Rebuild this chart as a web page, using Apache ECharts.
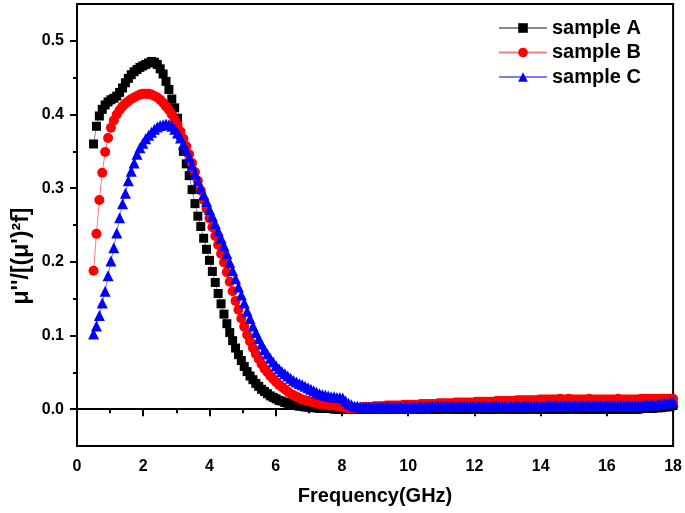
<!DOCTYPE html>
<html><head><meta charset="utf-8">
<script src="https://cdn.jsdelivr.net/npm/echarts@6/dist/echarts.min.js"></script>
<style>html,body{margin:0;padding:0;background:#fff}#c{width:685px;height:513px}</style>
</head><body><div id="c"></div>
<script>
const freq = [
0.5,0.5875,0.675,0.7625,0.85,0.9375,1.025,1.1125,
1.2,1.2875,1.375,1.4625,1.55,1.6375,1.725,1.8125,
1.9,1.9875,2.075,2.1625,2.25,2.3375,2.425,2.5125,
2.6,2.6875,2.775,2.8625,2.95,3.0375,3.125,3.2125,
3.3,3.3875,3.475,3.5625,3.65,3.7375,3.825,3.9125,
4.0,4.0875,4.175,4.2625,4.35,4.4375,4.525,4.6125,
4.7,4.7875,4.875,4.9625,5.05,5.1375,5.225,5.3125,
5.4,5.4875,5.575,5.6625,5.75,5.8375,5.925,6.0125,
6.1,6.1875,6.275,6.3625,6.45,6.5375,6.625,6.7125,
6.8,6.8875,6.975,7.0625,7.15,7.2375,7.325,7.4125,
7.5,7.5875,7.675,7.7625,7.85,7.9375,8.025,8.1125,
8.2,8.2875,8.375,8.4625,8.55,8.6375,8.725,8.8125,
8.9,8.9875,9.075,9.1625,9.25,9.3375,9.425,9.5125,
9.6,9.6875,9.775,9.8625,9.95,10.0375,10.125,10.2125,
10.3,10.3875,10.475,10.5625,10.65,10.7375,10.825,10.9125,
11.0,11.0875,11.175,11.2625,11.35,11.4375,11.525,11.6125,
11.7,11.7875,11.875,11.9625,12.05,12.1375,12.225,12.3125,
12.4,12.4875,12.575,12.6625,12.75,12.8375,12.925,13.0125,
13.1,13.1875,13.275,13.3625,13.45,13.5375,13.625,13.7125,
13.8,13.8875,13.975,14.0625,14.15,14.2375,14.325,14.4125,
14.5,14.5875,14.675,14.7625,14.85,14.9375,15.025,15.1125,
15.2,15.2875,15.375,15.4625,15.55,15.6375,15.725,15.8125,
15.9,15.9875,16.075,16.1625,16.25,16.3375,16.425,16.5125,
16.6,16.6875,16.775,16.8625,16.95,17.0375,17.125,17.2125,
17.3,17.3875,17.475,17.5625,17.65,17.7375,17.825,17.9125,
18.0];

const sampleA = [
0.360,0.384,0.398,0.407,0.413,0.417,0.420,0.422,
0.425,0.430,0.436,0.443,0.449,0.454,0.458,0.461,
0.464,0.466,0.468,0.470,0.472,0.471,0.468,0.462,
0.455,0.445,0.434,0.421,0.409,0.395,0.372,0.350,
0.333,0.317,0.298,0.279,0.262,0.248,0.232,0.217,
0.202,0.187,0.172,0.157,0.143,0.129,0.116,0.104,
0.093,0.083,0.074,0.066,0.058,0.051,0.045,0.040,
0.035,0.031,0.027,0.024,0.021,0.018,0.016,0.014,
0.012,0.011,0.009,0.008,0.007,0.006,0.005,0.004,
0.004,0.003,0.003,0.002,0.002,0.002,0.001,0.001,
0.001,0.001,0.001,0.000,0.000,0.000,0.000,0.000,
0.000,0.000,0.000,0.000,0.000,0.000,0.000,0.000,
0.000,0.000,0.000,0.000,0.001,0.000,0.000,0.000,
0.000,0.001,0.000,0.000,0.000,0.000,0.001,0.000,
0.000,0.000,0.000,0.001,0.000,0.000,0.000,0.000,
0.000,0.000,0.001,0.000,0.000,0.000,0.000,0.000,
0.000,0.000,0.000,0.000,0.001,0.000,0.000,0.000,
0.000,0.000,0.000,0.000,0.000,0.001,0.000,0.000,
0.000,0.000,0.000,0.000,0.000,0.000,0.000,0.001,
0.000,0.000,0.000,0.000,0.000,0.000,0.000,0.000,
0.000,0.000,0.000,0.000,0.000,0.000,0.001,0.000,
0.000,0.000,0.000,0.000,0.000,0.000,0.000,0.000,
0.000,0.000,0.000,0.000,0.000,0.000,0.000,0.000,
0.000,0.000,0.000,0.000,0.000,0.001,0.001,0.001,
0.001,0.001,0.002,0.002,0.002,0.003,0.003,0.004,
0.005];

const sampleB = [
0.188,0.238,0.284,0.321,0.349,0.368,0.382,0.392,
0.400,0.406,0.411,0.415,0.418,0.421,0.423,0.425,
0.427,0.428,0.428,0.428,0.427,0.425,0.423,0.420,
0.416,0.411,0.406,0.400,0.393,0.386,0.377,0.367,
0.357,0.346,0.334,0.322,0.310,0.297,0.284,0.272,
0.259,0.247,0.235,0.223,0.211,0.199,0.186,0.173,
0.160,0.147,0.135,0.123,0.112,0.101,0.092,0.083,
0.075,0.068,0.061,0.055,0.050,0.045,0.041,0.037,
0.033,0.030,0.027,0.024,0.021,0.019,0.017,0.015,
0.013,0.012,0.011,0.010,0.009,0.008,0.007,0.007,
0.006,0.006,0.005,0.005,0.004,0.004,0.003,0.002,
0.001,0.001,0.002,0.002,0.002,0.003,0.003,0.003,
0.003,0.004,0.004,0.004,0.004,0.005,0.005,0.005,
0.005,0.005,0.005,0.006,0.006,0.006,0.006,0.006,
0.006,0.007,0.007,0.007,0.007,0.007,0.007,0.008,
0.008,0.008,0.008,0.008,0.008,0.009,0.009,0.009,
0.009,0.009,0.009,0.009,0.010,0.010,0.010,0.010,
0.010,0.010,0.010,0.011,0.011,0.011,0.011,0.011,
0.011,0.011,0.012,0.012,0.012,0.012,0.012,0.012,
0.012,0.012,0.013,0.013,0.013,0.013,0.013,0.013,
0.013,0.014,0.013,0.013,0.014,0.013,0.013,0.013,
0.013,0.013,0.013,0.014,0.013,0.013,0.013,0.013,
0.013,0.013,0.013,0.013,0.013,0.014,0.013,0.013,
0.013,0.013,0.013,0.013,0.013,0.014,0.014,0.014,
0.014,0.014,0.014,0.014,0.014,0.014,0.014,0.014,
0.014];

const sampleC = [
0.102,0.113,0.127,0.144,0.160,0.181,0.201,0.219,
0.239,0.260,0.279,0.293,0.310,0.323,0.334,0.346,
0.355,0.361,0.367,0.372,0.376,0.380,0.383,0.385,
0.386,0.387,0.386,0.384,0.380,0.375,0.368,0.360,
0.351,0.342,0.331,0.320,0.310,0.300,0.291,0.282,
0.271,0.262,0.252,0.242,0.232,0.222,0.211,0.199,
0.188,0.177,0.166,0.155,0.144,0.133,0.123,0.113,
0.104,0.096,0.088,0.081,0.075,0.069,0.064,0.059,
0.055,0.051,0.048,0.045,0.042,0.039,0.037,0.035,
0.033,0.031,0.029,0.027,0.025,0.023,0.021,0.020,
0.019,0.018,0.017,0.017,0.016,0.016,0.015,0.011,
0.008,0.006,0.004,0.004,0.003,0.003,0.003,0.003,
0.003,0.003,0.003,0.003,0.003,0.003,0.003,0.003,
0.003,0.003,0.003,0.003,0.004,0.003,0.003,0.003,
0.003,0.004,0.003,0.003,0.004,0.004,0.004,0.004,
0.004,0.004,0.004,0.004,0.004,0.004,0.004,0.004,
0.004,0.004,0.004,0.004,0.004,0.004,0.004,0.004,
0.004,0.004,0.004,0.005,0.004,0.004,0.004,0.004,
0.004,0.004,0.005,0.004,0.004,0.005,0.004,0.004,
0.004,0.005,0.004,0.004,0.005,0.005,0.005,0.005,
0.005,0.005,0.005,0.005,0.005,0.005,0.005,0.005,
0.005,0.005,0.005,0.005,0.005,0.005,0.005,0.005,
0.005,0.005,0.005,0.005,0.005,0.005,0.005,0.005,
0.005,0.005,0.005,0.005,0.005,0.005,0.006,0.006,
0.006,0.006,0.006,0.007,0.007,0.008,0.008,0.009,
0.010];

const seriesNames = ['sample A', 'sample B', 'sample C'];
const yTicks = [0, 0.1, 0.2, 0.3, 0.4, 0.5];
const yMinorTicks = [0.05, 0.15, 0.25, 0.35, 0.45];
const xTitle = 'Frequency(GHz)';
const yTitle = 'μ\'\'/[(μ\')²f]';

const FONT = 'Arial, "Liberation Sans", sans-serif';
function pairs(ys) { return freq.map((f, i) => [f, ys[i]]); }

const chart = echarts.init(document.getElementById('c'), null, {renderer: 'canvas'});
const axisLine = {show: true, lineStyle: {color: '#000', width: 2}};
chart.setOption({
  animation: false,
  backgroundColor: '#fff',
  grid: {left: 77, right: 8, top: 4, bottom: 67, show: true, borderColor: '#000', borderWidth: 2, backgroundColor: 'transparent'},
  legend: {
    data: seriesNames, orient: 'vertical', left: 498, top: 18,
    itemWidth: 48, itemHeight: 12, itemGap: 4.5, padding: 0,
    textStyle: {fontFamily: FONT, fontSize: 20, fontWeight: 'bold', color: '#000'}
  },
  xAxis: {
    type: 'value', min: 0, max: 18, interval: 2,
    axisLine: axisLine,
    axisTick: {show: true, inside: false, length: 7, lineStyle: {color: '#000', width: 2}},
    minorTick: {show: true, splitNumber: 2, length: 4, lineStyle: {color: '#000', width: 2}},
    splitLine: {show: false}, minorSplitLine: {show: false},
    axisLabel: {color: '#000', fontFamily: FONT, fontWeight: 'bold', fontSize: 16, margin: 13},
    name: xTitle, nameLocation: 'middle', nameGap: 40,
    nameTextStyle: {color: '#000', fontFamily: FONT, fontWeight: 'bold', fontSize: 20}
  },
  yAxis: [{
    type: 'value', min: -0.05, max: 0.55,
    axisLine: axisLine,
    axisTick: {show: true, inside: false, length: 7, customValues: yTicks, lineStyle: {color: '#000', width: 2}},
    axisLabel: {customValues: yTicks, formatter: v => v.toFixed(1), color: '#000', fontFamily: FONT, fontWeight: 'bold', fontSize: 16, margin: 13},
    splitLine: {show: false}
  }, {
    type: 'value', min: -0.05, max: 0.55, position: 'left', offset: 0,
    axisLine: {show: false},
    axisTick: {show: true, inside: false, length: 4, customValues: yMinorTicks, lineStyle: {color: '#000', width: 2}},
    axisLabel: {show: false},
    splitLine: {show: false}
  }],
  graphic: [{
    type: 'text', x: 22, y: 256, rotation: Math.PI / 2,
    style: {text: yTitle, font: 'bold 23px ' + FONT, fill: '#000', textAlign: 'center', textVerticalAlign: 'middle'}
  }],
  series: [{
    name: seriesNames[0], type: 'line', data: pairs(sampleA), yAxisIndex: 0,
    symbol: 'rect', symbolSize: 9, showAllSymbol: true,
    itemStyle: {color: '#000'}, lineStyle: {color: '#8a8a8a', width: 1}
  }, {
    name: seriesNames[1], type: 'line', data: pairs(sampleB), yAxisIndex: 0,
    symbol: 'circle', symbolSize: 10, showAllSymbol: true,
    itemStyle: {color: '#ff0000'}, lineStyle: {color: '#ff7a7a', width: 1}
  }, {
    name: seriesNames[2], type: 'line', data: pairs(sampleC), yAxisIndex: 0,
    symbol: 'triangle', symbolSize: 11, showAllSymbol: true,
    itemStyle: {color: '#0000ff'}, lineStyle: {color: '#7a7aff', width: 1}
  }]
});
</script>
</body></html>
